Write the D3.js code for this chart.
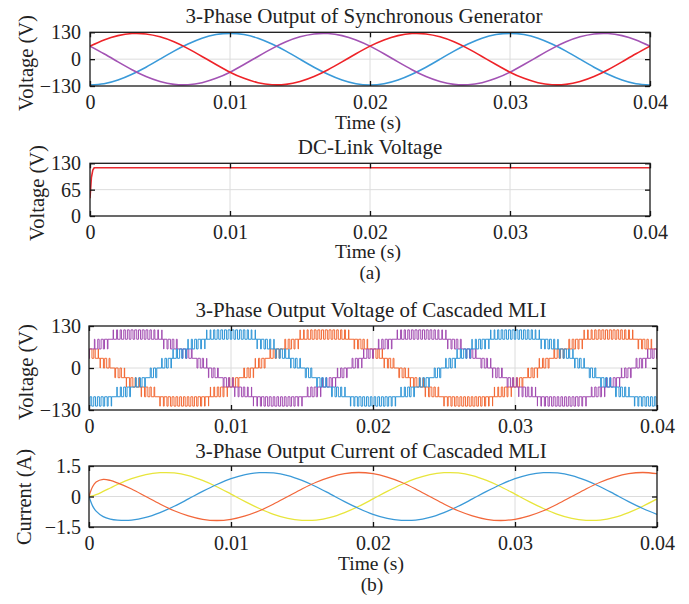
<!DOCTYPE html>
<html>
<head>
<meta charset="utf-8">
<script src="https://cdn.jsdelivr.net/npm/d3@7"></script>
<style>
  body { margin: 0; background: #fff; }
  svg text { font-family: "Liberation Serif", "Times New Roman", serif; fill: #222; }
</style>
</head>
<body>
<div id="chart"></div>
<script>
// ---------- data ----------
var timeTicks = [0, 0.01, 0.02, 0.03, 0.04];
var timeTickLabels = ["0", "0.01", "0.02", "0.03", "0.04"];
var voltTicks = [-130, 0, 130];
var voltTickLabels = ["\u2212130", "0", "130"];
var dcTicks = [0, 65, 130];
var dcTickLabels = ["0", "65", "130"];
var ampTicks = [-1.5, 0, 1.5];
var ampTickLabels = ["\u22121.5", "0", "1.5"];

// generator phases (V), one sample per ms
var genTime = d3.range(41).map(function(i) { return i / 1000; });
var genRed = [63, 93, 114, 124, 122, 108, 84, 51, 13, -26, -63, -93, -114, -124, -122, -108, -84, -51, -13, 26,
              63, 93, 114, 124, 122, 108, 84, 51, 13, -26, -63, -93, -114, -124, -122, -108, -84, -51, -13, 26, 63];
var genBlue = [-125, -119, -101, -73, -39, 0, 39, 73, 101, 119, 125, 119, 101, 73, 39, 0, -39, -73, -101, -119,
               -125, -119, -101, -73, -39, 0, 39, 73, 101, 119, 125, 119, 101, 73, 39, 0, -39, -73, -101, -119, -125];
var genPurple = [63, 26, -13, -51, -84, -108, -122, -124, -114, -93, -63, -26, 13, 51, 84, 108, 122, 124, 114, 93,
                 63, 26, -13, -51, -84, -108, -122, -124, -114, -93, -63, -26, 13, 51, 84, 108, 122, 124, 114, 93, 63];

// DC link (V)
var dcTime = [0, 0.0001, 0.0002, 0.0003, 0.04];
var dcLink = [44, 95, 113, 119, 119];

// cascaded MLI: output levels and the modulating reference of each phase (V), one sample per ms
var mliLevels = [-118, -89, -59, -30, 0, 30, 59, 89, 118];
var carrierHz = 3800;
var mliTime = genTime;
var mliPurple = [53, 79, 97, 105, 104, 92, 71, 43, 11, -22, -53, -79, -97, -105, -104, -92, -71, -43, -11, 22,
                 53, 79, 97, 105, 104, 92, 71, 43, 11, -22, -53, -79, -97, -105, -104, -92, -71, -43, -11, 22, 53];
var mliOrange = [53, 22, -11, -43, -71, -92, -104, -105, -97, -79, -53, -22, 11, 43, 71, 92, 104, 105, 97, 79,
                 53, 22, -11, -43, -71, -92, -104, -105, -97, -79, -53, -22, 11, 43, 71, 92, 104, 105, 97, 79, 53];
var mliBlue = [-106, -101, -86, -62, -33, 0, 33, 62, 86, 101, 106, 101, 86, 62, 33, 0, -33, -62, -86, -101,
               -106, -101, -86, -62, -33, 0, 33, 62, 86, 101, 106, 101, 86, 62, 33, 0, -33, -62, -86, -101, -106];

// MLI phase currents (A)
var curTime = [0, 0.00025, 0.0005, 0.001, 0.0015, 0.002].concat(d3.range(3, 41).map(function(i) { return i / 1000; }));
var curRed = [0, 0.48, 0.71, 0.84, 0.79, 0.67,
              0.37, 0, -0.37, -0.70, -0.95, -1.12, -1.18, -1.12, -0.95, -0.70,
              -0.37, 0, 0.37, 0.70, 0.95, 1.12, 1.18, 1.12, 0.95, 0.70,
              0.37, 0, -0.37, -0.70, -0.95, -1.12, -1.18, -1.12, -0.95, -0.70,
              -0.37, 0, 0.37, 0.70, 0.95, 1.12, 1.18, 1.12];
var curBlue = [0, -0.46, -0.72, -0.99, -1.11, -1.16,
               -1.16, -1.03, -0.79, -0.48, -0.12, 0.25, 0.59, 0.88, 1.08, 1.17,
               1.16, 1.03, 0.79, 0.48, 0.12, -0.25, -0.59, -0.88, -1.08, -1.17,
               -1.16, -1.03, -0.79, -0.48, -0.12, 0.25, 0.59, 0.88, 1.08, 1.17,
               1.16, 1.03, 0.79, 0.48, 0.12, -0.25, -0.59, -0.88];
var curYellow = [0, 0.03, 0.09, 0.25, 0.42, 0.59,
                 0.88, 1.08, 1.17, 1.16, 1.03, 0.79, 0.48, 0.12, -0.25, -0.59,
                 -0.88, -1.08, -1.17, -1.16, -1.03, -0.79, -0.48, -0.12, 0.25, 0.59,
                 0.88, 1.08, 1.17, 1.16, 1.03, 0.79, 0.48, 0.12, -0.25, -0.59,
                 -0.88, -1.08, -1.17, -1.16, -1.03, -0.79, -0.48, -0.12];

// ---------- drawing ----------
var W = 689, H = 604;
var svg = d3.select("#chart").append("svg")
  .attr("width", W).attr("height", H)
  .style("display", "block");
svg.append("rect").attr("width", W).attr("height", H).attr("fill", "#fff");

function panel(cfg) {
  var x = d3.scaleLinear().domain([0, 0.04]).range([cfg.left, cfg.right]);
  var y = d3.scaleLinear().domain(cfg.yDomain).range([cfg.bottom, cfg.top]);
  var g = svg.append("g");

  // grid
  g.selectAll(".gx").data(timeTicks.slice(1, -1)).enter().append("line")
    .attr("x1", x).attr("x2", x).attr("y1", cfg.top).attr("y2", cfg.bottom)
    .attr("stroke", "#dcdcdc").attr("stroke-width", 1);
  g.selectAll(".gy").data(cfg.yTicks.slice(1, -1)).enter().append("line")
    .attr("x1", cfg.left).attr("x2", cfg.right).attr("y1", y).attr("y2", y)
    .attr("stroke", "#dcdcdc").attr("stroke-width", 1);

  var clipId = "clip-" + cfg.name;
  svg.append("clipPath").attr("id", clipId).append("rect")
    .attr("x", cfg.left).attr("y", cfg.top)
    .attr("width", cfg.right - cfg.left).attr("height", cfg.bottom - cfg.top);
  var plot = g.append("g").attr("clip-path", "url(#" + clipId + ")");

  // axes (inward ticks all round)
  var ax = g.append("g").attr("transform", "translate(0," + cfg.bottom + ")")
    .call(d3.axisBottom(x).tickValues(timeTicks).tickSize(-5).tickPadding(9)
      .tickFormat(function(d, i) { return timeTickLabels[i]; }));
  g.append("g").attr("transform", "translate(0," + cfg.top + ")")
    .call(d3.axisTop(x).tickValues(timeTicks).tickSize(-5).tickFormat(""));
  var ay = g.append("g").attr("transform", "translate(" + cfg.left + ",0)")
    .call(d3.axisLeft(y).tickValues(cfg.yTicks).tickSize(-5).tickPadding(cfg.left - 81)
      .tickFormat(function(d, i) { return cfg.yTickLabels[i]; }));
  g.append("g").attr("transform", "translate(" + cfg.right + ",0)")
    .call(d3.axisRight(y).tickValues(cfg.yTicks).tickSize(-5).tickFormat(""));
  g.selectAll(".domain").remove();
  g.selectAll(".tick line").attr("stroke", "#111").attr("stroke-width", 1.3);
  ax.selectAll("text").attr("font-size", 20).attr("fill", "#222")
    .attr("font-family", "Liberation Serif, Times New Roman, serif");
  ay.selectAll("text").attr("font-size", 20).attr("fill", "#222").attr("dy", "0.33em")
    .attr("font-family", "Liberation Serif, Times New Roman, serif");

  // frame
  g.append("rect").attr("x", cfg.left).attr("y", cfg.top)
    .attr("width", cfg.right - cfg.left).attr("height", cfg.bottom - cfg.top)
    .attr("fill", "none").attr("stroke", "#1a1a1a").attr("stroke-width", 1.3);

  // labels
  svg.append("text").attr("x", cfg.titleX).attr("y", cfg.titleY)
    .attr("text-anchor", "middle").attr("font-size", 21).text(cfg.title);
  svg.append("text")
    .attr("transform", "translate(" + cfg.yLabelX + "," + cfg.yLabelY + ") rotate(-90)")
    .attr("dy", "0.3em").attr("text-anchor", "middle").attr("font-size", 20.5).text(cfg.yLabel);
  if (cfg.xLabel) {
    svg.append("text").attr("x", (cfg.left + cfg.right) / 2 - 2).attr("y", cfg.bottom + cfg.xLabelDy)
      .attr("text-anchor", "middle").attr("font-size", 19.5).text(cfg.xLabel);
  }
  return { plot: plot, x: x, y: y };
}

function drawLine(p, times, values, color, width, curve) {
  var pts = times.map(function(t, i) { return [t, values[i]]; });
  p.plot.append("path").datum(pts)
    .attr("fill", "none").attr("stroke", color).attr("stroke-width", width)
    .attr("stroke-linejoin", "round")
    .attr("d", d3.line().x(function(d) { return p.x(d[0]); })
      .y(function(d) { return p.y(d[1]); }).curve(curve));
}

// multilevel PWM: reference compared against a carrier inside its level band
function pwmPoints(ref) {
  var r = d3.scaleLinear().domain(mliTime).range(ref);
  var pts = [], prev = null, n = 20000;
  for (var i = 0; i <= n; i++) {
    var t = 0.04 * i / n;
    var v = r(t);
    var k = d3.bisectRight(mliLevels, v) - 1;
    k = Math.max(0, Math.min(mliLevels.length - 2, k));
    var lo = mliLevels[k], hi = mliLevels[k + 1];
    var frac = (v - lo) / (hi - lo);
    var tri = Math.abs(2 * ((t * carrierHz) % 1) - 1);
    var out = frac > tri ? hi : lo;
    if (out !== prev) { pts.push([t, out]); prev = out; }
  }
  pts.push([0.04, prev]);
  return pts;
}

// panel 1
var p1 = panel({ name: "gen", left: 90, right: 650, top: 32.3, bottom: 86,
  yDomain: [-130, 130], yTicks: voltTicks, yTickLabels: voltTickLabels,
  title: "3-Phase Output of Synchronous Generator", titleX: 364, titleY: 22.5,
  yLabel: "Voltage (V)", yLabelX: 27, yLabelY: 63, xLabel: "Time (s)", xLabelDy: 43 });
drawLine(p1, genTime, genBlue, "#3a9ad9", 1.6, d3.curveNatural);
drawLine(p1, genTime, genPurple, "#a353b4", 1.6, d3.curveNatural);
drawLine(p1, genTime, genRed, "#ee2328", 1.6, d3.curveNatural);

// panel 2
var p2 = panel({ name: "dc", left: 90, right: 650, top: 163.3, bottom: 216,
  yDomain: [0, 130], yTicks: dcTicks, yTickLabels: dcTickLabels,
  title: "DC-Link Voltage", titleX: 370, titleY: 154,
  yLabel: "Voltage (V)", yLabelX: 38, yLabelY: 193, xLabel: "Time (s)", xLabelDy: 42 });
drawLine(p2, dcTime, dcLink, "#e8282e", 1.6, d3.curveLinear);

svg.append("text").attr("x", 370).attr("y", 279).attr("text-anchor", "middle")
  .attr("font-size", 19).text("(a)");

// panel 3
var p3 = panel({ name: "mli", left: 89, right: 657, top: 326, bottom: 410,
  yDomain: [-130, 130], yTicks: voltTicks, yTickLabels: voltTickLabels,
  title: "3-Phase Output Voltage of Cascaded MLI", titleX: 371, titleY: 316.5,
  yLabel: "Voltage (V)", yLabelX: 26.5, yLabelY: 372, xLabel: null });
[[mliOrange, "#f26a36"], [mliPurple, "#a24db1"], [mliBlue, "#2f95d6"]].forEach(function(s) {
  var pts = pwmPoints(s[0]);
  drawLine(p3, pts.map(function(d) { return d[0]; }), pts.map(function(d) { return d[1]; }),
    s[1], 1, d3.curveStepAfter);
});

// panel 4
var p4 = panel({ name: "cur", left: 89, right: 657, top: 466, bottom: 527,
  yDomain: [-1.5, 1.5], yTicks: ampTicks, yTickLabels: ampTickLabels,
  title: "3-Phase Output Current of Cascaded MLI", titleX: 371, titleY: 458,
  yLabel: "Current (A)", yLabelX: 25, yLabelY: 497, xLabel: "Time (s)", xLabelDy: 43 });
drawLine(p4, curTime, curYellow, "#e8e53c", 1.3, d3.curveCatmullRom);
drawLine(p4, curTime, curBlue, "#3b9ad8", 1.3, d3.curveCatmullRom);
drawLine(p4, curTime, curRed, "#f2673a", 1.3, d3.curveCatmullRom);

svg.append("text").attr("x", 372).attr("y", 591).attr("text-anchor", "middle")
  .attr("font-size", 19.5).text("(b)");
</script>
</body>
</html>
